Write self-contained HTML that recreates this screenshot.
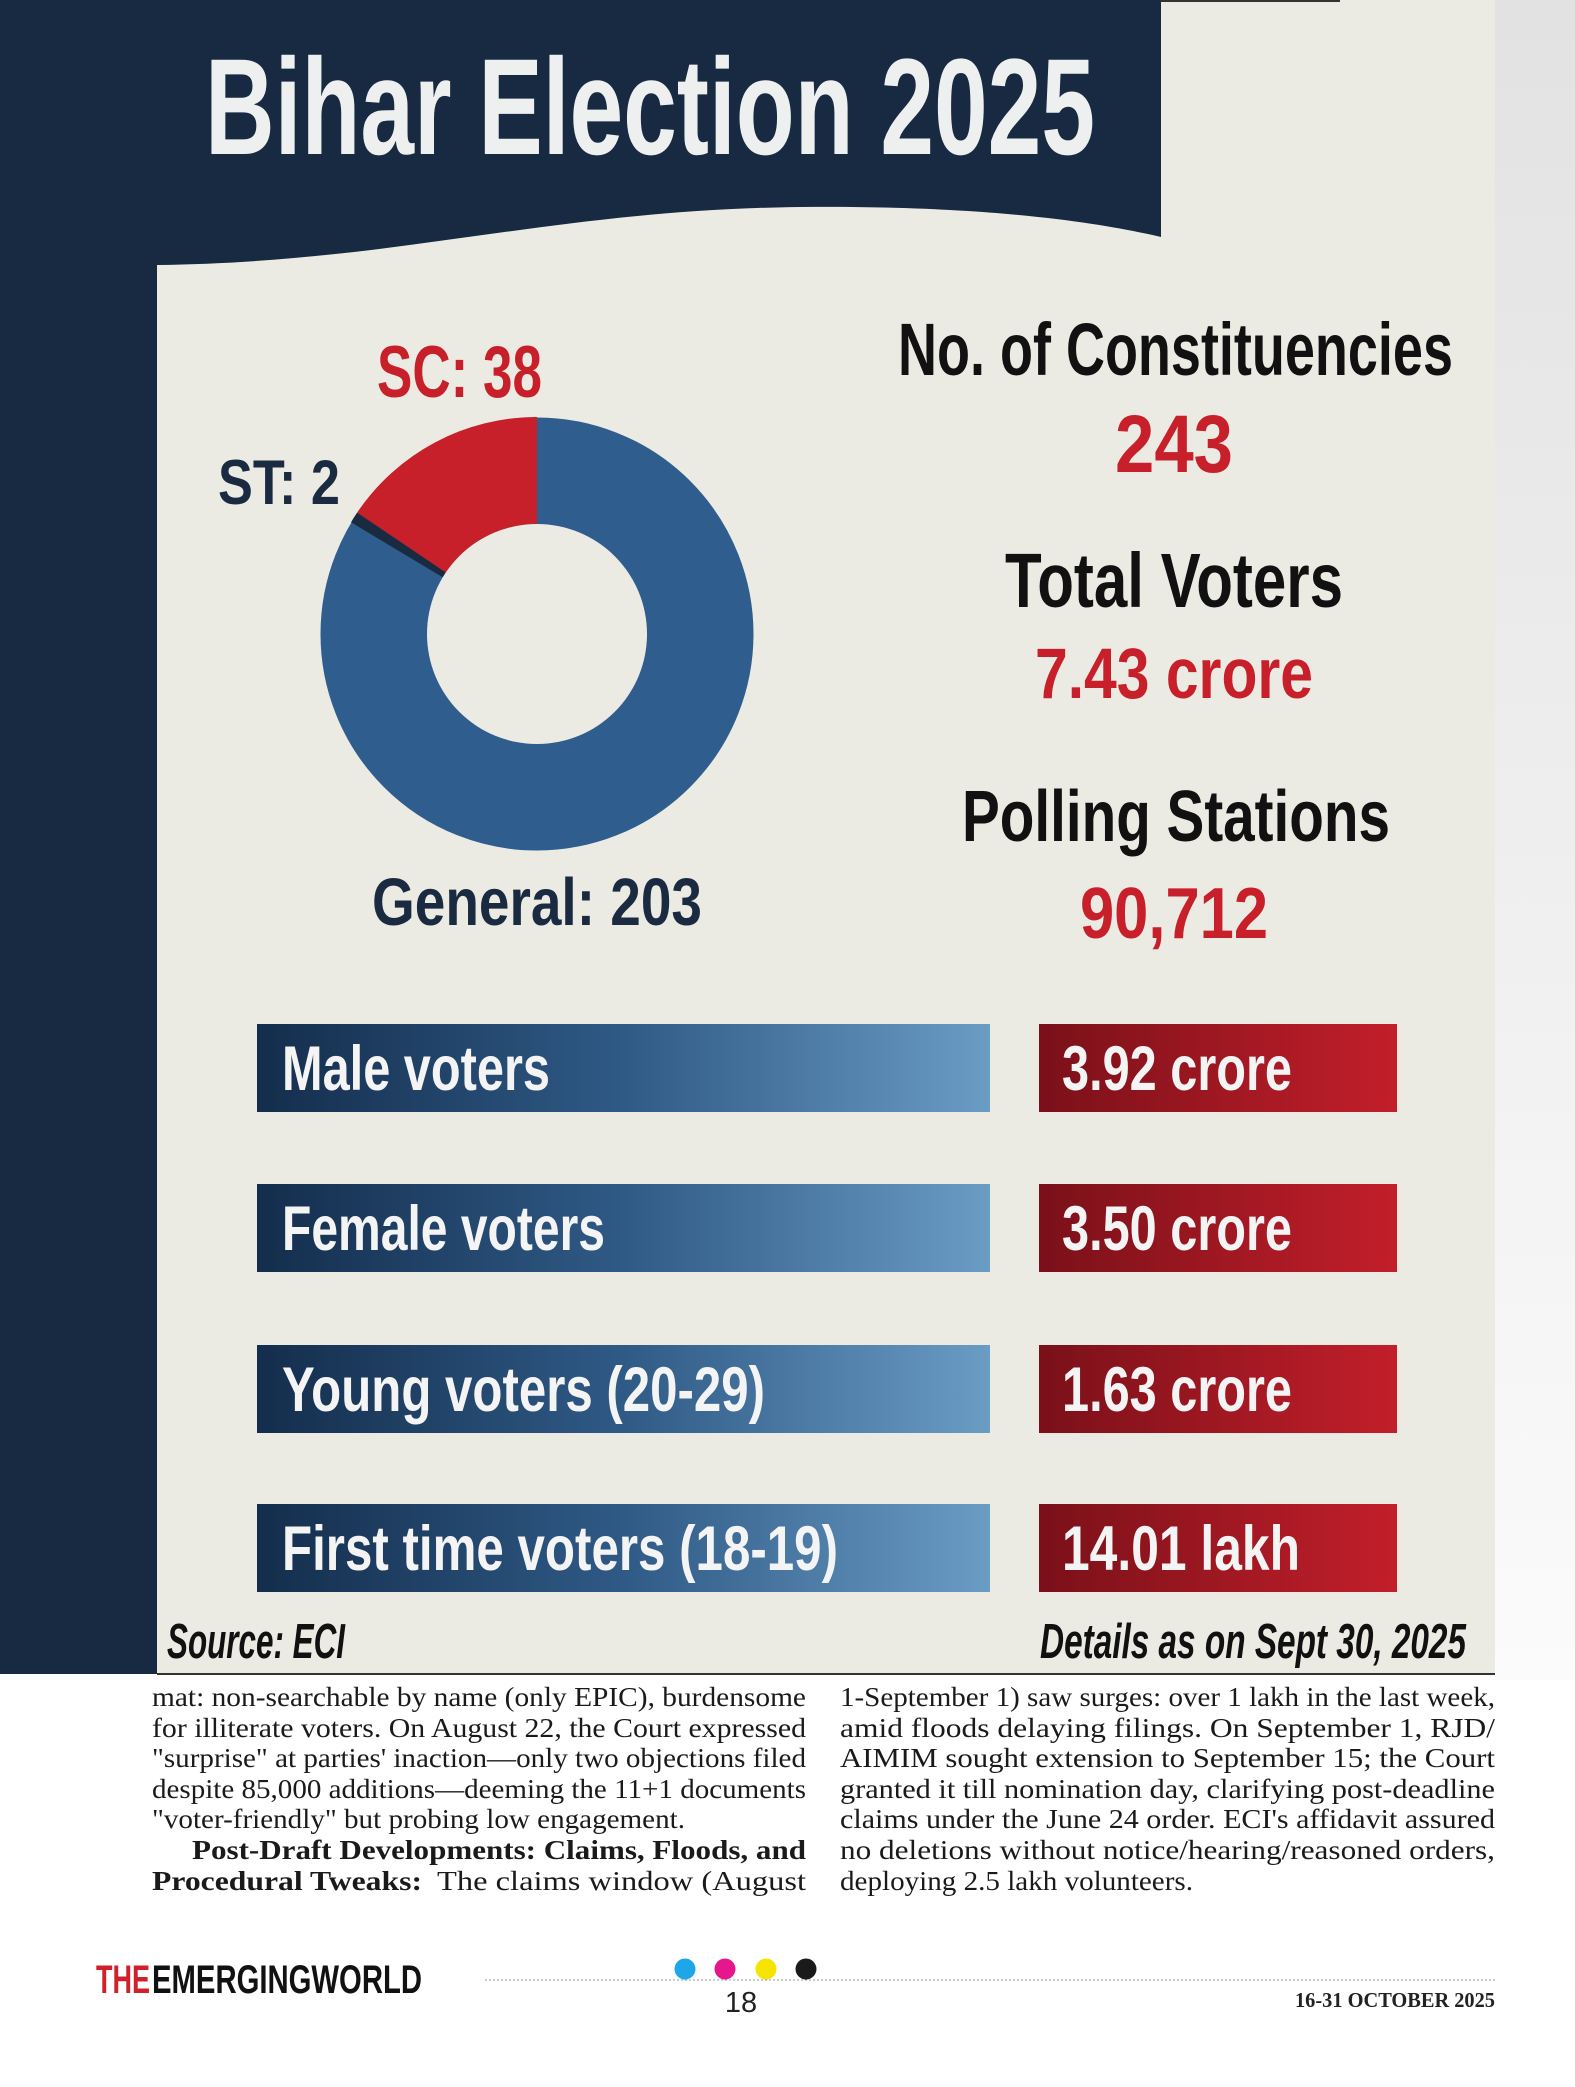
<!DOCTYPE html>
<html><head><meta charset="utf-8"><style>
html,body{margin:0;padding:0;background:#fff;}
svg{display:block;}
</style></head><body>
<svg width="1575" height="2087" viewBox="0 0 1575 2087" xmlns="http://www.w3.org/2000/svg">
<defs>
<linearGradient id="side" x1="0" y1="0" x2="0" y2="1"><stop offset="0" stop-color="#e2e2e2"/><stop offset="1" stop-color="#fbfbfb"/></linearGradient>
<linearGradient id="bb" x1="0" y1="0" x2="1" y2="0"><stop offset="0" stop-color="#142d4c"/><stop offset="0.5" stop-color="#2f5a86"/><stop offset="1" stop-color="#6a9cc4"/></linearGradient>
<linearGradient id="rb" x1="0" y1="0" x2="1" y2="0"><stop offset="0" stop-color="#7a1019"/><stop offset="1" stop-color="#c21f2a"/></linearGradient>
</defs>
<rect width="1575" height="2087" fill="#fff"/>
<rect x="1495" y="0" width="80" height="1680" fill="url(#side)"/>
<rect x="157" y="0" width="1338" height="1674" fill="#ecebe3"/>
<path d="M0,0 H1161 V237 C1110,225 1000,205 800,207 C550,210 400,262 157,265 V1674 H0 Z" fill="#172a42"/>
<rect x="1160" y="0" width="180" height="2" fill="#333"/>
<rect x="157" y="1673" width="1338" height="2" fill="#333"/>
<g font-family="'Liberation Sans',sans-serif" font-weight="bold">
<text x="205" y="154" font-size="137" fill="#eef0f0" textLength="890" lengthAdjust="spacingAndGlyphs">Bihar Election 2025</text>
</g>
<!-- donut -->
<g transform="translate(537,634)">
<circle r="163" fill="none" stroke="#2e5d8e" stroke-width="107"/>
<path d="M0,-217 A217,217 0 0,0 -179.9,-121.4 L-91.2,-61.5 A110,110 0 0,1 0,-110 Z" fill="#c8202a"/>
<path d="M-179.9,-121.4 A217,217 0 0,0 -186.0,-111.8 L-94.3,-56.7 A110,110 0 0,1 -91.2,-61.5 Z" fill="#1a2a40"/>
<circle r="110" fill="#ecebe3"/>
</g>
<g font-family="'Liberation Sans',sans-serif" font-weight="bold">
<text x="377" y="397" font-size="73" fill="#c8202a" textLength="165" lengthAdjust="spacingAndGlyphs">SC: 38</text>
<text x="218" y="504" font-size="63" fill="#1a2a40" textLength="122" lengthAdjust="spacingAndGlyphs">ST: 2</text>
<text x="372" y="925" font-size="67" fill="#1a2a40" textLength="330" lengthAdjust="spacingAndGlyphs">General: 203</text>
<text x="898" y="375" font-size="74" fill="#111" textLength="555" lengthAdjust="spacingAndGlyphs">No. of Constituencies</text>
<text x="1115" y="472" font-size="82" fill="#c8202a" textLength="118" lengthAdjust="spacingAndGlyphs">243</text>
<text x="1005" y="607" font-size="77" fill="#111" textLength="338" lengthAdjust="spacingAndGlyphs">Total Voters</text>
<text x="1035" y="698" font-size="71" fill="#c8202a" textLength="278" lengthAdjust="spacingAndGlyphs">7.43 crore</text>
<text x="962" y="841" font-size="72" fill="#111" textLength="428" lengthAdjust="spacingAndGlyphs">Polling Stations</text>
<text x="1080" y="938" font-size="72" fill="#c8202a" textLength="188" lengthAdjust="spacingAndGlyphs">90,712</text>

<rect x="257" y="1024" width="733" height="88" fill="url(#bb)"/>
<rect x="1039" y="1024" width="358" height="88" fill="url(#rb)"/>
<rect x="257" y="1184" width="733" height="88" fill="url(#bb)"/>
<rect x="1039" y="1184" width="358" height="88" fill="url(#rb)"/>
<rect x="257" y="1345" width="733" height="88" fill="url(#bb)"/>
<rect x="1039" y="1345" width="358" height="88" fill="url(#rb)"/>
<rect x="257" y="1504" width="733" height="88" fill="url(#bb)"/>
<rect x="1039" y="1504" width="358" height="88" fill="url(#rb)"/>
<g fill="#f4f4f4" font-size="63">
<text x="282" y="1090" textLength="268" lengthAdjust="spacingAndGlyphs">Male voters</text>
<text x="282" y="1250" textLength="323" lengthAdjust="spacingAndGlyphs">Female voters</text>
<text x="282" y="1411" textLength="483" lengthAdjust="spacingAndGlyphs">Young voters (20-29)</text>
<text x="282" y="1570" textLength="556" lengthAdjust="spacingAndGlyphs">First time voters (18-19)</text>
<text x="1062" y="1090" textLength="230" lengthAdjust="spacingAndGlyphs">3.92 crore</text>
<text x="1062" y="1250" textLength="230" lengthAdjust="spacingAndGlyphs">3.50 crore</text>
<text x="1062" y="1411" textLength="230" lengthAdjust="spacingAndGlyphs">1.63 crore</text>
<text x="1062" y="1570" textLength="238" lengthAdjust="spacingAndGlyphs">14.01 lakh</text>
</g>
<g fill="#111" font-size="49" font-style="italic">
<text x="167" y="1658" textLength="178" lengthAdjust="spacingAndGlyphs">Source: ECI</text>
<text x="1040" y="1658" textLength="426" lengthAdjust="spacingAndGlyphs">Details as on Sept 30, 2025</text>
</g>
</g>
<g font-family="'Liberation Serif',serif" font-size="27" fill="#1a1a1a">
<text x="152" y="1706" textLength="654" lengthAdjust="spacingAndGlyphs">mat: non-searchable by name (only EPIC), burdensome</text>
<text x="152" y="1737" textLength="654" lengthAdjust="spacingAndGlyphs">for illiterate voters. On August 22, the Court expressed</text>
<text x="152" y="1767" textLength="654" lengthAdjust="spacingAndGlyphs">"surprise" at parties' inaction—only two objections filed</text>
<text x="152" y="1798" textLength="654" lengthAdjust="spacingAndGlyphs">despite 85,000 additions—deeming the 11+1 documents</text>
<text x="152" y="1828" textLength="533" lengthAdjust="spacingAndGlyphs">"voter-friendly" but probing low engagement.</text>
<text x="192" y="1859" textLength="614" lengthAdjust="spacingAndGlyphs" font-weight="bold">Post-Draft Developments: Claims, Floods, and</text>
<text x="152" y="1890" textLength="270" lengthAdjust="spacingAndGlyphs" font-weight="bold">Procedural Tweaks:</text>
<text x="437" y="1890" textLength="369" lengthAdjust="spacingAndGlyphs">The claims window (August</text>
<text x="840" y="1706" textLength="655" lengthAdjust="spacingAndGlyphs">1-September 1) saw surges: over 1 lakh in the last week,</text>
<text x="840" y="1737" textLength="655" lengthAdjust="spacingAndGlyphs">amid floods delaying filings. On September 1, RJD/</text>
<text x="840" y="1767" textLength="655" lengthAdjust="spacingAndGlyphs">AIMIM sought extension to September 15; the Court</text>
<text x="840" y="1798" textLength="655" lengthAdjust="spacingAndGlyphs">granted it till nomination day, clarifying post-deadline</text>
<text x="840" y="1828" textLength="655" lengthAdjust="spacingAndGlyphs">claims under the June 24 order. ECI's affidavit assured</text>
<text x="840" y="1859" textLength="655" lengthAdjust="spacingAndGlyphs">no deletions without notice/hearing/reasoned orders,</text>
<text x="840" y="1890" textLength="353" lengthAdjust="spacingAndGlyphs">deploying 2.5 lakh volunteers.</text>
</g>
<g font-family="'Liberation Sans',sans-serif" font-weight="bold" font-size="40">
<text x="96" y="1993" fill="#d0202a" textLength="54" lengthAdjust="spacingAndGlyphs">THE</text>
<text x="152" y="1993" fill="#111" textLength="270" lengthAdjust="spacingAndGlyphs">EMERGINGWORLD</text>
</g>
<line x1="485" y1="1980" x2="1495" y2="1980" stroke="#999" stroke-width="1" stroke-dasharray="2,2"/>
<circle cx="685" cy="1969" r="10.5" fill="#1ea6e8"/>
<circle cx="725" cy="1969" r="10.5" fill="#e6178c"/>
<circle cx="766" cy="1969" r="10.5" fill="#f5e400"/>
<circle cx="806" cy="1969" r="10.5" fill="#1a1a1a"/>
<text x="741" y="2012" font-family="'Liberation Sans',sans-serif" font-size="29" fill="#222" text-anchor="middle">18</text>
<text x="1495" y="2007" font-family="'Liberation Serif',serif" font-weight="bold" font-size="21" fill="#222" text-anchor="end" textLength="200" lengthAdjust="spacingAndGlyphs">16-31 OCTOBER 2025</text>
</svg>
</body></html>
